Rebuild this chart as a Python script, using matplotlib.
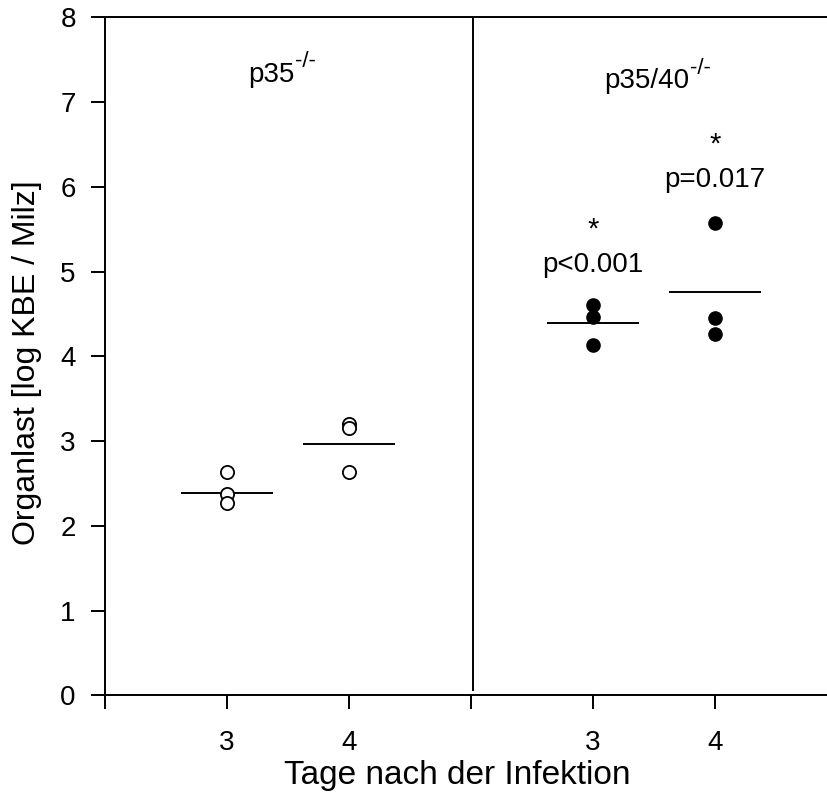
import matplotlib
matplotlib.use("Agg")
import matplotlib.pyplot as plt

plt.rcParams['font.family'] = ['Liberation Sans', 'DejaVu Sans']

# ---- data ----
groups = ["p35", "p35/40"]
days = [3, 4]
# x slots of each group/day combination
slot_p35 = [1, 2]
slot_p3540 = [4, 5]

p35_day3 = [2.64, 2.38, 2.27]
p35_day4 = [3.20, 3.15, 2.63]
p3540_day3 = [4.61, 4.46, 4.13]
p3540_day4 = [5.57, 4.45, 4.26]

mean_p35 = [2.39, 2.97]
mean_p3540 = [4.39, 4.76]

p_labels = ["p<0.001", "p=0.017"]
p_label_y = [5.0, 6.0]
star_y = [5.40, 6.40]

xtick_pos = [0, 1, 2, 3, 4, 5, 6]
xtick_labels = ["", "3", "4", "", "3", "4", ""]
ytick_pos = [0, 1, 2, 3, 4, 5, 6, 7, 8]

# ---- figure ----
fig = plt.figure(figsize=(8.28, 7.96), dpi=100)
ax = fig.add_axes([105 / 828, 100.7 / 796, 732 / 828, 678 / 796])
ax.set_xlim(0, 6)
ax.set_ylim(0, 8)

lw = 1.4
for s in ["left", "bottom", "top"]:
    ax.spines[s].set_linewidth(lw)
ax.spines["right"].set_visible(False)

ax.set_xticks(xtick_pos)
ax.set_xticklabels(xtick_labels)
ax.set_yticks(ytick_pos)
ax.tick_params(axis="both", direction="out", length=10, width=lw, labelsize=20)
ax.tick_params(axis="y", pad=11)
ax.tick_params(axis="x", pad=15)

# divider between groups
ax.axvline(3.015, ymin=0.008, ymax=1.0, color="black", lw=lw)

ms = 9.5
hw = 0.38
# open circles for p35-/-
for x, vals, m in zip(slot_p35, [p35_day3, p35_day4], mean_p35):
    ax.plot([x] * len(vals), vals, linestyle="none", marker="o", ms=ms,
            markerfacecolor="white", markeredgecolor="black", markeredgewidth=1.3,
            zorder=3)
    ax.hlines(m, x - hw, x + hw, color="black", lw=lw, zorder=2)

# filled circles for p35/40-/-
for x, vals, m in zip(slot_p3540, [p3540_day3, p3540_day4], mean_p3540):
    ax.plot([x] * len(vals), vals, linestyle="none", marker="o", ms=ms,
            markerfacecolor="black", markeredgecolor="black", zorder=3)
    ax.hlines(m, x - hw, x + hw, color="black", lw=lw, zorder=2)

# significance annotations
for x, lab, ly, sy in zip(slot_p3540, p_labels, p_label_y, star_y):
    ax.text(x, ly, lab, ha="center", va="baseline", fontsize=20)
    ax.text(x, sy, "*", ha="center", va="baseline", fontsize=21)

# group labels with superscript
for gx, gy, g in zip([1.36, 4.44], [7.24, 7.16], groups):
    t = ax.text(gx, gy, g, ha="center", va="baseline", fontsize=20)
    ax.annotate("-/-", xy=(1, 1), xycoords=t, xytext=(0.5, 0),
                textcoords="offset points", ha="left", va="center", fontsize=16)

ax.set_xlabel("Tage nach der Infektion", fontsize=24)
ax.set_ylabel("Organlast [log KBE / Milz]", fontsize=23)
ax.xaxis.set_label_coords(0.481, -0.0954)
ax.yaxis.label.set_verticalalignment("center")
ax.yaxis.set_label_coords(-0.1066, 0.491)

fig.savefig("out.png", dpi=100, facecolor="white")
